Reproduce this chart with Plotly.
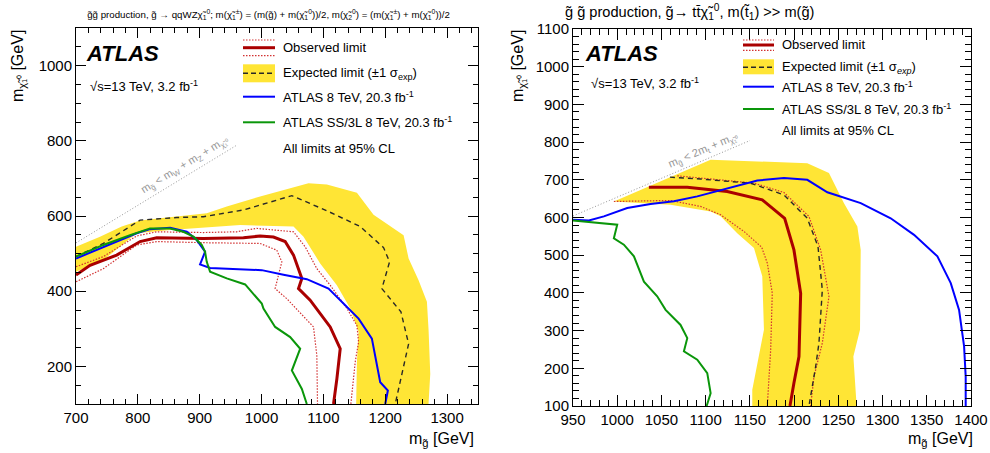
import plotly.graph_objects as go

# ---------------- data: left panel (gluino -> qqWZ chi1) ----------------
L_band_hi_x = [700, 738.8, 773.9, 803.6, 835.9, 868.3, 911.4, 943.8, 997.7, 1075.9, 1105.6, 1154.2, 1181.1, 1229.7, 1237.8, 1253.9, 1267.4, 1270.1, 1272.8, 1270]
L_band_hi_y = [518, 545, 572, 588, 594, 600, 607, 625, 652, 687, 684, 662, 603, 549, 487, 429, 372, 296, 180, 100]
L_band_lo_x = [700, 744.2, 798.2, 852.1, 965.4, 1051.7, 1067.9, 1094.8, 1121.8, 1143.4, 1156.9, 1154.2, 1153]
L_band_lo_y = [452, 483, 554, 563, 576, 572, 545, 474, 416, 354, 292, 212, 100]

L_exp_x = [700, 744.2, 803.6, 862.9, 906, 970.8, 1049, 1105.6, 1159.5, 1197.3, 1207, 1194.6, 1225.4, 1237.8, 1227, 1216.2]
L_exp_y = [492, 527, 589, 596, 598, 616, 654, 614, 572, 516, 478, 407, 345, 260, 180, 100]

L_obs_x = [700, 722.7, 765.8, 803.6, 830.5, 906, 970.8, 997.7, 1019.3, 1038.2, 1051.7, 1065.2, 1059.8, 1078.6, 1111, 1127.2, 1121.8, 1116.4]
L_obs_y = [443, 469, 496, 532, 542, 540, 542, 547, 544, 532, 496, 434, 407, 376, 305, 247, 167, 100]

L_obs_up_x = [700, 744.2, 798.2, 830.5, 906, 960, 992.4, 1051.7, 1070.6, 1089.4, 1111, 1138, 1154.2, 1156.9, 1151.5, 1144.4]
L_obs_up_y = [465, 492, 547, 558, 556, 558, 567, 558, 518, 460, 416, 354, 309, 265, 212, 100]
L_obs_dn_x = [700, 744.2, 798.2, 830.5, 906, 960, 997.7, 1024.7, 1032.8, 1022, 1040.9, 1084, 1089.4, 1090.5]
L_obs_dn_y = [425, 460, 523, 532, 529, 527, 527, 509, 478, 407, 380, 305, 229, 100]

L_8tev_x = [700, 744.2, 798.2, 819.7, 852.1, 879.1, 895.3, 908.7, 900.6, 916.8, 960, 1000.4, 1035.5, 1073.2, 1108.3, 1132.6, 1156.9, 1178.4, 1191.9, 1204.3, 1200]
L_8tev_y = [487, 518, 554, 565, 569, 558, 536, 505, 471, 462, 458, 456, 444, 432, 407, 367, 327, 274, 158, 136, 100]

L_ss3l_x = [700, 744.2, 787.4, 819.7, 852.1, 873.6, 889.9, 903.3, 908.7, 911.4, 916.8, 943.8, 973.5, 989.6, 1000.4, 1003.1, 1022, 1046.3, 1062.5, 1049, 1065.2, 1073.2]
L_ss3l_y = [492, 523, 549, 567, 567, 558, 545, 523, 505, 478, 452, 434, 418, 389, 367, 354, 305, 278, 247, 189, 140, 100]

L_kin_x = [700, 960]
L_kin_y = [528.4, 788.4]

# ---------------- data: right panel (gluino -> tt chi1) ----------------
R_band_hi_x = [996.2, 1105.6, 1214.9, 1239.4, 1256.4, 1271.5, 1275.3, 1274.5, 1267, 1270.7]
R_band_hi_y = [642.5, 753, 744, 718, 638, 576, 514, 302, 231, 100]
R_band_lo_x = [996.2, 1060.3, 1105.6, 1116.9, 1135.7, 1154.6, 1164, 1165.9, 1152.7, 1152.7]
R_band_lo_y = [642.5, 634, 616, 603, 558, 519, 444, 302, 143, 100]

R_exp_x = [1059.6, 1094.3, 1150.8, 1188.5, 1214.9, 1227, 1231.9, 1228.1, 1224.4, 1216.8]
R_exp_y = [707, 702, 691, 660, 598, 523, 408, 267, 205, 100]

R_obs_x = [1035.8, 1079.2, 1124.4, 1164, 1189.3, 1199.8, 1207.4, 1205.5, 1199.8, 1195.3]
R_obs_y = [680.5, 680.5, 669, 647, 598, 514, 399, 231, 161, 100]

R_obs_up_x = [1067.9, 1094.3, 1154.6, 1188.5, 1216.8, 1230, 1239.4, 1231.9, 1222.5, 1218.7]
R_obs_up_y = [710.6, 704.4, 691.2, 666.4, 602.7, 514.3, 390.5, 266.8, 178.3, 100]
R_obs_dn_x = [996.2, 1060.3, 1094.3, 1116.9, 1143.3, 1163.3, 1169.7, 1175.3, 1173.5, 1169.7]
R_obs_dn_y = [642.5, 645.2, 629.3, 607.2, 563, 521.4, 478.9, 399.4, 249.1, 100]

R_8tev_x = [950, 968, 984.9, 1011.3, 1037.7, 1064.1, 1090.5, 1116.9, 1158.4, 1188.5, 1214.9, 1237.6, 1275.3, 1309.2, 1335.6, 1362, 1377.1, 1386.5, 1392.2, 1394, 1394]
R_8tev_y = [594, 592, 603, 625, 636, 643, 656, 672, 698, 705, 700, 667, 638, 598, 554, 497, 426, 355, 258, 178, 100]

R_ss3l_x = [950, 1000, 996.2, 1007.5, 1018.9, 1030.2, 1045.2, 1054.7, 1071.6, 1079.2, 1075.4, 1090.5, 1101.8, 1105.6, 1101.1]
R_ss3l_y = [592, 581, 545, 528, 497, 430, 391, 355, 315, 280, 245, 223, 187, 134, 100]

R_kin_x = [950, 1150]
R_kin_y = [604, 804]

# ---------------- styles ----------------
FONT = "Liberation Sans, Arial, Helvetica, sans-serif"
YEL = "#ffe535"
RED = "rgb(170,0,0)"
RED_DOT = "rgb(210,50,50)"
BLUE = "rgb(0,0,255)"
GREEN = "rgb(10,150,10)"
DASHC = "rgb(40,40,40)"
GRAY = "rgb(150,150,150)"
DOT = "1.5px,1.5px"

fig = go.Figure()

def add_panel(xa, ya, bhx, bhy, blx, bly, ex, ey, ox, oy, oux, ouy, odx, ody, bx, by, gx, gy, kx, ky):
    px = bhx + blx[::-1]
    py = bhy + bly[::-1]
    fig.add_trace(go.Scatter(x=px, y=py, fill="toself", fillcolor=YEL, mode="lines",
                             line=dict(width=0, color=YEL), xaxis=xa, yaxis=ya, hoverinfo="skip"))
    fig.add_trace(go.Scatter(x=kx, y=ky, mode="lines", line=dict(color=GRAY, width=1, dash="1px,2px"),
                             xaxis=xa, yaxis=ya))
    fig.add_trace(go.Scatter(x=oux, y=ouy, mode="lines", line=dict(color=RED_DOT, width=1.2, dash=DOT),
                             xaxis=xa, yaxis=ya))
    fig.add_trace(go.Scatter(x=odx, y=ody, mode="lines", line=dict(color=RED_DOT, width=1.2, dash=DOT),
                             xaxis=xa, yaxis=ya))
    fig.add_trace(go.Scatter(x=ex, y=ey, mode="lines", line=dict(color=DASHC, width=1.4, dash="5px,4px"),
                             xaxis=xa, yaxis=ya))
    fig.add_trace(go.Scatter(x=ox, y=oy, mode="lines", line=dict(color=RED, width=3),
                             xaxis=xa, yaxis=ya))
    fig.add_trace(go.Scatter(x=bx, y=by, mode="lines", line=dict(color=BLUE, width=2),
                             xaxis=xa, yaxis=ya))
    fig.add_trace(go.Scatter(x=gx, y=gy, mode="lines", line=dict(color=GREEN, width=2),
                             xaxis=xa, yaxis=ya))

add_panel("x", "y", L_band_hi_x, L_band_hi_y, L_band_lo_x, L_band_lo_y, L_exp_x, L_exp_y,
          L_obs_x, L_obs_y, L_obs_up_x, L_obs_up_y, L_obs_dn_x, L_obs_dn_y,
          L_8tev_x, L_8tev_y, L_ss3l_x, L_ss3l_y, L_kin_x, L_kin_y)
add_panel("x2", "y2", R_band_hi_x, R_band_hi_y, R_band_lo_x, R_band_lo_y, R_exp_x, R_exp_y,
          R_obs_x, R_obs_y, R_obs_up_x, R_obs_up_y, R_obs_dn_x, R_obs_dn_y,
          R_8tev_x, R_8tev_y, R_ss3l_x, R_ss3l_y, R_kin_x, R_kin_y)

W, H = 990, 453
def PX(x): return x / W
def PY(y): return 1 - y / H

def axis(rng, dom, dtick, tick0, mdtick, tl, mtl):
    return dict(range=rng, domain=dom, dtick=dtick, tick0=tick0, ticks="inside", ticklen=tl,
                tickwidth=1, tickcolor="black", showline=True, linecolor="black", linewidth=1,
                mirror="ticks", showgrid=False, zeroline=False, automargin=False,
                tickfont=dict(family=FONT, size=15, color="black"),
                minor=dict(dtick=mdtick, ticks="inside", ticklen=mtl, tickcolor="black", tickwidth=1, showgrid=False))

layout = dict(
    width=W, height=H, margin=dict(l=0, r=0, t=0, b=0, autoexpand=False),
    paper_bgcolor="white", plot_bgcolor="white", showlegend=False,
    font=dict(family=FONT, color="black"),
    xaxis=axis([700, 1350], [PX(76), PX(478)], 100, 700, 20, 10, 5),
    yaxis=axis([100, 1100], [PY(404), PY(28)], 200, 200, 50, 10, 5),
    xaxis2=axis([950, 1400], [PX(573), PX(971)], 50, 950, 10, 11, 6),
    yaxis2=axis([100, 1100], [PY(406), PY(29)], 100, 100, 20, 11, 6),
)
layout["xaxis"]["anchor"] = "y"
layout["yaxis"]["anchor"] = "x"
layout["xaxis2"]["anchor"] = "y2"
layout["yaxis2"]["anchor"] = "x2"
fig.update_layout(**layout)

shapes = []
annos = []

def legend(x0, x1, tx, y_obs, y_obs_d1, y_obs_d2, y_box0, y_box1, y_exp, y_b, y_g, y_all, italic_exp):
    shapes.append(dict(type="line", xref="paper", yref="paper", x0=PX(x0), x1=PX(x1), y0=PY(y_obs_d1), y1=PY(y_obs_d1),
                       line=dict(color=RED_DOT, width=1.2, dash=DOT)))
    shapes.append(dict(type="line", xref="paper", yref="paper", x0=PX(x0), x1=PX(x1), y0=PY(y_obs_d2), y1=PY(y_obs_d2),
                       line=dict(color=RED_DOT, width=1.2, dash=DOT)))
    shapes.append(dict(type="line", xref="paper", yref="paper", x0=PX(x0), x1=PX(x1), y0=PY(y_obs), y1=PY(y_obs),
                       line=dict(color=RED, width=3)))
    shapes.append(dict(type="rect", xref="paper", yref="paper", x0=PX(x0), x1=PX(x1), y0=PY(y_box1), y1=PY(y_box0),
                       fillcolor=YEL, line=dict(width=0)))
    shapes.append(dict(type="line", xref="paper", yref="paper", x0=PX(x0), x1=PX(x1), y0=PY(y_exp), y1=PY(y_exp),
                       line=dict(color=DASHC, width=1.4, dash="5px,3px")))
    shapes.append(dict(type="line", xref="paper", yref="paper", x0=PX(x0), x1=PX(x1), y0=PY(y_b), y1=PY(y_b),
                       line=dict(color=BLUE, width=2)))
    shapes.append(dict(type="line", xref="paper", yref="paper", x0=PX(x0), x1=PX(x1), y0=PY(y_g), y1=PY(y_g),
                       line=dict(color=GREEN, width=2)))
    exp_sub = "<i>exp</i>" if italic_exp else "exp"
    texts = [("Observed limit", y_obs),
             ("Expected limit (±1 σ<sub>%s</sub>)" % exp_sub, y_exp),
             ("ATLAS 8 TeV, 20.3 fb<sup>-1</sup>", y_b),
             ("ATLAS SS/3L 8 TeV, 20.3 fb<sup>-1</sup>", y_g),
             ("All limits at 95% CL", y_all)]
    for t, y in texts:
        annos.append(dict(text=t, xref="paper", yref="paper", x=PX(tx), y=PY(y), xanchor="left", yanchor="middle",
                          showarrow=False, font=dict(family=FONT, size=13, color="black")))

legend(243, 275, 281, 47.7, 40, 55.7, 64.3, 82.3, 73.3, 96.7, 122.3, 148.3, False)
legend(743, 774, 780, 45, 40, 50.3, 59.3, 74.3, 67.3, 86.7, 109, 131, True)

for (ax, ay, sx, sy) in [(84, 54, 88, 86), (583, 53, 589, 83)]:
    annos.append(dict(text="<b><i>ATLAS</i></b>", xref="paper", yref="paper", x=PX(ax), y=PY(ay),
                      xanchor="left", yanchor="middle", showarrow=False,
                      font=dict(family=FONT, size=22, color="black")))
    annos.append(dict(text="√s=13 TeV, 3.2 fb<sup>-1</sup>", xref="paper", yref="paper", x=PX(sx), y=PY(sy),
                      xanchor="left", yanchor="middle", showarrow=False,
                      font=dict(family=FONT, size=13, color="black")))

# titles
annos.append(dict(text="g̃g̃ production, g̃ → qqWZχ̃<sub>1</sub><sup>0</sup>; m(χ̃<sub>1</sub><sup>±</sup>) = (m(g̃) + m(χ̃<sub>1</sub><sup>0</sup>))/2, m(χ̃<sub>2</sub><sup>0</sup>) = (m(χ̃<sub>1</sub><sup>±</sup>) + m(χ̃<sub>1</sub><sup>0</sup>))/2",
                  xref="paper", yref="paper", x=PX(85), y=PY(14), xanchor="left", yanchor="middle",
                  showarrow=False, font=dict(family=FONT, size=9.7, color="black")))
annos.append(dict(text="g̃ g̃ production, g̃→ tt̄χ̃<sub>1</sub><sup>0</sup>, m(t̃<sub>1</sub>) >> m(g̃)",
                  xref="paper", yref="paper", x=PX(563), y=PY(12), xanchor="left", yanchor="middle",
                  showarrow=False, font=dict(family=FONT, size=14.6, color="black")))

# axis titles
for xr in [476, 975]:
    annos.append(dict(text="m<sub>g̃</sub> [GeV]", xref="paper", yref="paper", x=PX(xr), y=PY(439),
                      xanchor="right", yanchor="middle", showarrow=False,
                      font=dict(family=FONT, size=16, color="black")))
for xl in [18, 518]:
    annos.append(dict(text="m<sub>χ̃₁⁰</sub> [GeV]", xref="paper", yref="paper", x=PX(xl), y=PY(28),
                      xanchor="center", yanchor="top", textangle=-90, showarrow=False,
                      font=dict(family=FONT, size=16, color="black")))

# kinematic labels
annos.append(dict(text="m<sub>g̃</sub> < m<sub>W</sub> + m<sub>Z</sub> + m<sub>χ̃₁⁰</sub>", xref="x", yref="y",
                  x=876, y=735, xanchor="center", yanchor="middle", textangle=-31.3, showarrow=False,
                  font=dict(family=FONT, size=11, color=GRAY)))
annos.append(dict(text="m<sub>g̃</sub> < 2m<sub>t</sub> + m<sub>χ̃₁⁰</sub>", xref="x2", yref="y2",
                  x=1098, y=779, xanchor="center", yanchor="middle", textangle=-23.1, showarrow=False,
                  font=dict(family=FONT, size=11, color=GRAY)))

fig.update_layout(shapes=shapes, annotations=annos)
fig.write_html("out.html", config={"displayModeBar": False},
               post_script="document.body.style.margin='0px';document.body.style.padding='0px';")
